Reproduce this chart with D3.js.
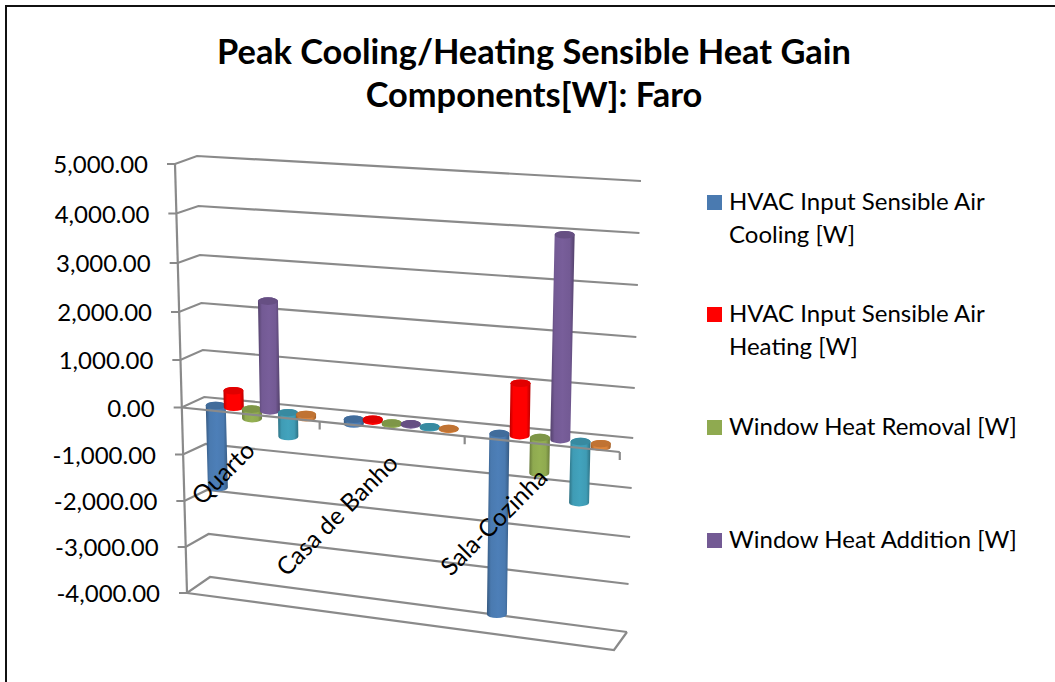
<!DOCTYPE html>
<html><head><meta charset="utf-8">
<script src="https://cdnjs.cloudflare.com/ajax/libs/d3/7.8.5/d3.min.js"></script>
<style>html,body{margin:0;padding:0;background:#fff}svg{display:block}text{font-family:Lato,"Open Sans",sans-serif;fill:#000}</style>
</head><body><svg id="c" width="1055" height="682"></svg>
<script>
const categories = ["Quarto","Casa de Banho","Sala-Cozinha"];
const seriesNames = ["HVAC Input Sensible Air Cooling [W]","HVAC Input Sensible Air Heating [W]","Window Heat Removal [W]","Window Heat Addition [W]","Series 5","Series 6"];
const cooling  = [-1750, -100, -3750];
const heating  = [350, 40, 1100];
const removal  = [-200, -30, -720];
const addition = [2300, 20, 4180];
const series5  = [-500, -20, -1230];
const series6  = [-70, -15, -70];
const tickValues = [5000,4000,3000,2000,1000,0,-1000,-2000,-3000,-4000];
const colors = ["#4a7ab0","#ff0000","#8faa50","#735a94","#3f9cb5","#d9823a"];
const legendLines = [["HVAC Input Sensible Air","Cooling [W]"],["HVAC Input Sensible Air","Heating [W]"],["Window Heat Removal [W]"],["Window Heat Addition [W]"]];

const svg = d3.select("#c");
const allSeries = [cooling,heating,removal,addition,series5,series6];
// projected edges of the 3D box: pixel rows of each gridline on each vertical edge
const edge = (a,b,ys)=>({x:d3.scaleLinear().domain([5000,-4000]).range([a,b]),y:d3.scaleLinear().domain(tickValues).range(ys)});
const FL = edge(175,187,[164,213.5,263,312,360,407.5,454.5,501,547,593]);
const FR = edge(627,614,[212,262,311,359,406,452,502,552,601,650]);
const BL = edge(197,210,[156,206,255,303,350,397,444,490,534,577]);
const BR = edge(641,627,[181,233,285,337,388,438,488,537,584,632]);
const uToS = d3.scaleLinear().domain([0,1,2,3]).range([0,.315,.646,1]);
function proj(u,w,v){
  const s=uToS(u);
  const fx=FL.x(v)+(FR.x(v)-FL.x(v))*s, fy=FL.y(v)+(FR.y(v)-FL.y(v))*s;
  const bx=BL.x(v)+(BR.x(v)-BL.x(v))*s, by=BL.y(v)+(BR.y(v)-BL.y(v))*s;
  return [fx+(bx-fx)*w, fy+(by-fy)*w];
}
// frame: left and top only, the right and bottom run off the page
svg.append("path").attr("d","M6,683V6H1056").attr("fill","none").attr("stroke","#111").attr("stroke-width",2);
// title
const title=svg.append("text").attr("text-anchor","middle").attr("font-weight",700).attr("font-size",34.4);
title.append("tspan").attr("x",534).attr("y",64).text("Peak Cooling/Heating Sensible Heat Gain");
title.append("tspan").attr("x",534).attr("y",107).text("Components[W]: Faro");
const gridCol="#8a8a8a", gridW=2.2;
const line=d3.line();
const stroke=s=>s.attr("fill","none").attr("stroke",gridCol).attr("stroke-width",gridW);
// gridlines
svg.append("g").selectAll("path").data(tickValues).join("path")
  .attr("d",v=>line([[FL.x(v)-8,FL.y(v)],[FL.x(v),FL.y(v)],[BL.x(v),BL.y(v)],[BR.x(v),BR.y(v)]]))
  .call(stroke);
svg.append("path").attr("d",line([[FL.x(5000),FL.y(5000)],[FL.x(-4000),FL.y(-4000)]])).call(stroke);
svg.append("path").attr("d",line([[FL.x(-4000),FL.y(-4000)],[FR.x(-4000),FR.y(-4000)],[BR.x(-4000),BR.y(-4000)]])).call(stroke);
// value labels
const fmt=v=>d3.format(",.2f")(v).replace("\u2212","-");
svg.append("g").selectAll("text").data(tickValues).join("text")
  .attr("x",v=>FL.x(v)-27).attr("y",v=>FL.y(v)+9).attr("text-anchor","end").attr("font-size",24)
  .text(fmt);
// gradients
const defs=svg.append("defs");
colors.forEach((c,i)=>{
  const g=defs.append("linearGradient").attr("id","g"+i);
  const d=d3.color(c).darker(.9), l=d3.color(c).brighter(.12);
  [[0,d],[.18,c],[.5,l],[.8,c],[1,d]].forEach(([o,k])=>g.append("stop").attr("offset",o).attr("stop-color",k));
});
// cylinders
const rx=10, ry=3.8, depth=.42, step=.132, mid=.51;
const bars=[];
categories.forEach((cat,ci)=>allSeries.forEach((vals,si)=>bars.push({u:ci+mid+(si-2.5)*step,v:vals[ci],si})));
const gb=svg.append("g");
bars.forEach(b=>{
  const hi=Math.max(b.v,0), lo=Math.min(b.v,0);
  const t=proj(b.u,depth,hi), e=proj(b.u,depth,lo);
  gb.append("path").attr("fill",`url(#g${b.si})`)
    .attr("d",`M${t[0]-rx},${t[1]}L${e[0]-rx},${e[1]}A${rx},${ry} 0 0 0 ${e[0]+rx},${e[1]}L${t[0]+rx},${t[1]}A${rx},${ry} 0 0 0 ${t[0]-rx},${t[1]}Z`);
  gb.append("ellipse").attr("cx",t[0]).attr("cy",t[1]).attr("rx",rx).attr("ry",ry)
    .attr("fill",d3.color(colors[b.si]).darker(.35));
});
// front zero line and ticks
svg.append("path").attr("d",line([[FL.x(0),FL.y(0)],[FR.x(0),FR.y(0)]])).call(stroke);
svg.append("g").selectAll("path").data([1,2,3]).join("path").attr("d",u=>{const p=proj(u,0,0);return line([p,[p[0],p[1]+8]]);}).call(stroke);
// category labels
const catPos=[[223,473],[337,515],[494,522]];
svg.append("g").selectAll("text").data(categories).join("text")
  .attr("transform",(d,i)=>`translate(${catPos[i][0]},${catPos[i][1]}) rotate(-45)`)
  .attr("text-anchor","middle").attr("dy",".35em").attr("font-size",24.5).text(d=>d);
// legend
const legY=[195,307,420,533];
const lg=svg.append("g").selectAll("g").data(legendLines).join("g").attr("transform",(d,i)=>`translate(707,${legY[i]})`);
lg.append("rect").attr("width",15).attr("height",15).attr("fill",(d,i)=>colors[i]);
lg.selectAll("text").data(d=>d).join("text").attr("x",22).attr("y",(d,i)=>15+i*32.5).attr("font-size",24).text(d=>d);
</script></body></html>
